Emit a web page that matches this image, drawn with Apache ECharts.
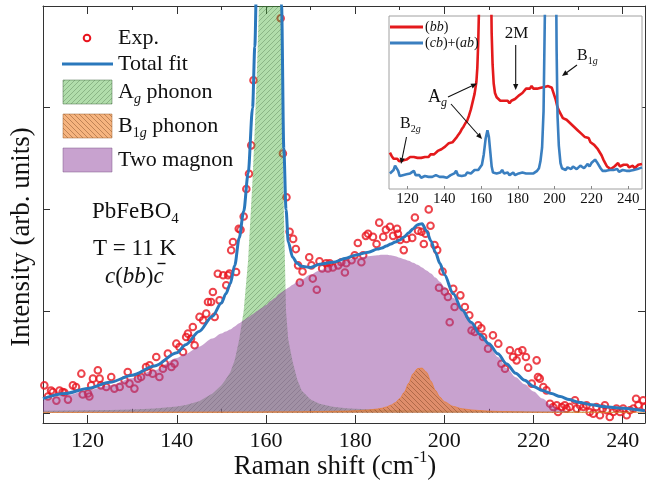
<!DOCTYPE html>
<html><head><meta charset="utf-8">
<script src="https://cdn.jsdelivr.net/npm/echarts@6/dist/echarts.min.js"></script>
<style>html,body{margin:0;padding:0;background:#fff}#c{width:646px;height:485px}</style>
</head><body><div id="c"></div>
<script>
const FONT = '"Liberation Serif","Times New Roman",serif';
const RED = '#e8141e', BLUE = '#2a78bc';

// ---- main plot data ----
const xTicks = [120,140,160,180,200,220,240];
const xMinorTicks = [130,150,170,190,210,230];
const yTicks = [0,1,2,3];

const compX = [110,115,120,125,130,135,140,142,145,148,150,151,152,153,154,155,156,157,157.5,158,158.5,159,160,161,162,163,163.5,164,164.5,165,166,167,168,170,172,175,178,180,183,185,186,187,188,189,190,191,192,193,194,195,196,197,198,199,200,202,204,206,208,210,212,214,216,218,220,222,224,226,228,230,233,236,240,245];
const twoMagnon = [.12,.17,.22,.27,.34,.42,.54,.58,.65,.73,.78,.80,.82,.85,.88,.91,.94,.97,.985,1.0,1.015,1.03,1.06,1.10,1.13,1.17,1.185,1.2,1.215,1.23,1.26,1.29,1.31,1.36,1.40,1.45,1.50,1.52,1.54,1.55,1.555,1.555,1.55,1.54,1.525,1.51,1.495,1.475,1.455,1.43,1.40,1.37,1.33,1.29,1.24,1.13,1.02,0.89,0.78,0.67,0.55,0.44,0.35,0.28,0.21,0.14,0.075,0.025,0.003,0,0,0,0,0];
const agPhonon = [.02,.022,.025,.028,.033,.042,.062,.078,.115,.19,.27,.33,.40,.52,.72,1.0,1.5,2.3,2.8,3.4,4.1,4.8,6.0,6.6,6.5,5.2,3.8,2.0,1.0,.72,.50,.33,.22,.13,.09,.06,.045,.04,.035,.032,.031,.03,.029,.028,.027,.026,.026,.025,.025,.024,.024,.023,.023,.022,.022,.021,.02,.019,.018,.017,.016,.016,.015,.015,.014,.014,.013,.013,.012,.012,.011,.011,.01,.01];
const b1gPhonon = [.004,.004,.005,.005,.006,.006,.007,.007,.007,.008,.008,.008,.008,.008,.009,.009,.009,.009,.009,.009,.009,.009,.01,.01,.01,.01,.01,.01,.01,.01,.011,.011,.011,.012,.013,.015,.017,.02,.028,.038,.045,.058,.075,.10,.14,.20,.29,.385,.435,.44,.40,.31,.22,.155,.11,.063,.04,.029,.022,.017,.014,.012,.01,.009,.008,.007,.007,.006,.006,.005,.005,.004,.004,.004];
const totalFit = [.14,.19,.24,.30,.37,.46,.59,.67,.80,.95,1.08,1.17,1.27,1.45,1.72,1.98,2.35,3.0,3.6,4.5,5.3,6.0,7.0,7.6,7.5,6.2,4.0,2.6,2.0,1.68,1.53,1.47,1.44,1.43,1.46,1.48,1.52,1.55,1.58,1.61,1.62,1.64,1.66,1.68,1.70,1.73,1.77,1.81,1.85,1.86,1.79,1.69,1.58,1.47,1.36,1.17,1.01,0.89,0.77,0.68,0.58,0.48,0.39,0.32,0.26,0.22,0.19,0.16,0.13,0.105,0.08,0.06,0.045,0.02];

const expPoints = [
[110.3,.27],[111.1,.16],[111.8,.22],[112.2,.205],[113.0,.12],[113.7,.22],[114.4,.205],[114.8,.20],[115.6,.13],[116.7,.27],[117.4,.254],[118.6,.385],[118.9,.18],[120.1,.19],[120.4,.16],[120.8,.27],[121.2,.336],[122.3,.418],[122.7,.336],[123.0,.27],[124.2,.254],[125.3,.353],[126.0,.238],[127.2,.254],[128.3,.32],[129.0,.402],[129.4,.287],[130.5,.238],[131.3,.336],[132.0,.353],[133.1,.451],[133.5,.402],[133.9,.467],[134.6,.385],[135.4,.549],[136.1,.353],[136.9,.434],[137.3,.484],[138.0,.582],[138.8,.451],[139.5,.484],[139.9,.68],[140.6,.647],[141.4,.598],[142.1,.746],[142.5,.779],[143.2,.729],[143.6,.844],[144.0,.664],[145.1,.943],[145.9,.91],[146.6,.975],[147.0,1.09],[147.7,1.09],[148.1,1.188],[148.5,.943],[149.2,1.368],[149.6,1.106],[150.4,1.352],[151.1,1.254],[151.5,1.352],[151.8,1.37],[152.2,1.598],[152.6,1.68],[153.3,1.385],[153.9,1.81],[154.3,1.8],[155.0,1.93],[155.6,2.2],[156.2,2.35],[156.7,2.63],[157.2,3.27],
[157.9,4.6],[158.6,5.8],[159.3,6.9],[160.0,7.6],[160.7,7.9],[161.4,7.8],[162.1,7.2],[162.8,5.6],
[163.3,3.88],[163.8,2.55],[164.6,2.12],[165.3,1.78],[166.1,1.71],[166.7,1.61],[167.2,1.45],[167.6,1.28],[168.2,1.39],[169.7,1.53],[170.2,1.45],[170.5,1.32],[171.4,1.21],[172.0,1.49],[172.6,1.42],[173.5,1.47],[173.9,1.42],[174.3,1.47],[175.0,1.43],[176.2,1.45],[176.9,1.48],[177.7,1.38],[178.0,1.47],[179.2,1.5],[179.9,1.55],[180.6,1.67],[181.4,1.48],[181.8,1.55],[182.4,1.74],[182.9,1.76],[184.0,1.73],[184.8,1.66],[185.4,1.87],[186.3,1.73],[186.9,1.8],[187.8,1.83],[188.5,1.74],[189.4,1.81],[189.6,1.76],[190.1,1.70],[190.9,1.6],[191.5,1.71],[192.8,1.72],[193.4,1.92],[194.1,1.79],[194.9,1.78],[195.4,1.66],[195.8,1.76],[196.5,2.0],[196.9,1.84],[197.8,1.65],[198.4,1.6],[198.8,1.23],[199.6,1.39],[200.1,1.19],[200.8,1.14],[201.2,.89],[202.0,1.22],[202.3,1.04],[203.6,1.155],[204.6,1.04],[205.6,.96],[206.1,.81],[206.8,.795],[207.6,.86],[208.3,.83],[208.7,.746],[209.8,.631],[210.9,.762],[212.1,.68],[212.8,.483],[213.6,.434],[214.7,.615],[215.4,.549],[216.2,.516],[216.6,.598],[217.5,.615],[218.3,.549],[218.8,.444],[219.6,.287],[220.7,.516],[221.0,.352],[221.4,.336],[222.2,.254],[222.9,.221],[223.7,.09],[224.4,.057],[225.2,.074],[225.5,.008],[226.3,.057],[227.0,.074],[227.4,.041],[228.1,.057],[229.3,.123],[229.7,.041],[230.4,.074],[231.2,.057],[231.9,.074],[232.6,.008],[233.4,-.008],[234.1,.057],[234.9,-.024],[235.5,.041],[236.0,.074],[236.4,.025],[237.1,-.041],[237.9,.008],[238.6,.041],[239.4,.008],[240.1,.041],[240.9,-.024],[241.6,.025],[242.4,.041],[243.0,.139],[243.5,.074],[244.6,.123],[245.0,.057]
];

// ---- inset data ----
const insetTicks = [120,140,160,180,200,220,240];
const insetBB = [
[110.5,21],[111.5,19],[112.5,17.5],[113.5,16.5],[114.5,17.5],[115.5,16],[116.5,15.5],[117.5,16.5],[118.5,15.5],[119.5,17],[120.5,17.5],[121.5,18.5],[122.5,19],[123.5,18.5],[124.5,17.5],[125.5,18],[126.5,17],[127.5,18],[128.5,17.5],[129.5,18.5],[130.5,19],[131.5,18.5],[132.5,20],[133.5,19.5],[134.5,20],[135.5,20.5],[136.5,22],[137.5,21.5],[138.5,23],[139.5,23.5],[140.5,24.5],[141.5,25],[142.5,26.5],[143.5,26],[144.5,27],[145.5,28],[146.5,29.5],[147.5,31],[148.5,32.5],[149.5,34.5],[150.5,36],[151.5,38],[152.5,39.5],[153.5,42.5],[154.5,46],[155.5,50.5],[156.5,55],[157.5,62],[158,70],[158.5,85],[159,108],[159.6,140],
[165.2,140],[165.8,90],[166.3,72],[166.9,61],[167.6,55.5],[168.5,53],[169.5,52],[170.5,51],[171.5,50],[172.5,51],[173.5,50],[174.5,51],[175.5,49.5],[176.5,51],[177.5,50],[178.5,52],[179.5,52.5],[180.5,54],[181.5,54.5],[182.5,55.5],[183.5,56.5],[184.5,58],[185.5,59],[186.5,58],[187.5,59.5],[188.5,58],[189.5,57],[190.5,58],[191.5,57.5],[192.5,58.5],[193.5,59.5],[194.5,59],[195.5,60],[196.5,59.5],[197.5,59],[198.5,58.5],[199.5,58.5],[200.5,52],[201.5,47.5],[202.5,45],[203.5,43],[204.5,41],[205.5,42],[206.5,40],[207.5,41],[208.5,38],[209.5,38.5],[210.5,36],[211.5,36.5],[212.5,34],[213.5,34.5],[214.5,32],[215.5,32.5],[216.5,30],[217.5,29],[218.5,29.5],[219.5,27],[220.5,26],[221.5,25.5],[222.5,24.5],[223.5,23],[224.5,22],[225.5,19.5],[226.5,17],[227.5,15],[228.5,13],[229.5,12],[230.5,11.5],[231.5,12],[232.5,13],[233.5,14],[234.5,15],[235.5,13],[236.5,12.5],[237.5,14],[238.5,15],[239.5,14],[240.5,12.5],[241.5,12],[242.5,13.5],[243.5,12],[244.5,13],[245.5,14],[246.5,13],[247.5,14.5]
];
const insetCB = [
[110.5,9],[111.5,10],[112.5,11],[113.3,13.5],[114.2,14],[115,10.5],[115.8,7.5],[116.5,7],[117.5,8],[118.5,7],[119.5,8.5],[120.5,8],[121.5,9],[122.5,10],[123.5,10.5],[124.5,8],[125.5,7],[126.5,8],[127.5,6.5],[128.5,6],[129.5,7.5],[130.5,8],[131.5,7],[132.5,8],[133.5,7],[134.5,6.5],[135.5,8],[136.5,7.5],[137.5,7],[138.5,8],[139.5,7],[140.5,7.5],[141.5,6.5],[142.5,7.5],[143.5,8],[144.5,7.5],[145.5,9],[146.5,10.5],[147.5,8],[148.5,7],[149.5,7.5],[150.5,8.5],[151.5,8],[152.5,9.5],[153.5,8.5],[154.5,9],[155.5,10],[156.5,11],[157.5,10],[158.5,11],[159.5,12],[160.5,14],[161.5,20],[162.5,29],[163.5,34],[164.3,30],[165,22],[165.8,13],[166.5,9.5],[167.5,10],[168.5,9],[169.5,8],[170.5,9.5],[171.5,11],[172.5,9],[173.5,8.5],[174.5,9.5],[175.5,8],[176.5,8.5],[177.5,9.5],[178.5,8],[179.5,8.5],[180.5,9],[181.5,8],[182.5,9.5],[183.5,8.5],[184.5,9],[185.5,8],[186.5,9],[187.5,8.5],[188.5,9],[189.5,9.5],[190.5,10.5],[191.5,12],[192.3,16],[193.2,24],[194,45],[194.7,100],[195.2,150],
[200.6,150],[201.1,80],[201.6,42],[202.3,25],[203.2,15],[204,12],[205,12],[206,11],[207,12.5],[208,12],[209,11.5],[210,13],[211,12.5],[212,11.5],[213,12],[214,13.5],[215,14],[216,12],[217,13],[218,14.5],[219,13],[220,15],[221,16],[222,17],[223,15.5],[224,16],[225,12],[226,10.5],[227,11.5],[228,10.5],[229,10],[230,11],[231,10],[232,11],[233,10.5],[234,11.5],[235,10],[236,10.5],[237,11],[238,10],[239,10.5],[240,11],[241,10.5],[242,11.5],[243,11],[244,12],[245,11.5],[246,12],[247.5,12.5]
];

// ---- hatch patterns ----
function hatch(bg, line, dir, s) {
  const c = document.createElement('canvas'); c.width = s; c.height = s;
  const g = c.getContext('2d');
  g.fillStyle = bg; g.fillRect(0, 0, s, s);
  g.strokeStyle = line; g.lineWidth = 0.7; g.beginPath();
  if (dir > 0) {
    g.moveTo(0, s); g.lineTo(s, 0); g.moveTo(-1, 1); g.lineTo(1, -1); g.moveTo(s - 1, s + 1); g.lineTo(s + 1, s - 1);
  } else {
    g.moveTo(0, 0); g.lineTo(s, s); g.moveTo(-1, s - 1); g.lineTo(1, s + 1); g.moveTo(s - 1, -1); g.lineTo(s + 1, 1);
  }
  g.stroke();
  return c;
}
const greenPat = {image: hatch('rgba(70,175,55,0.42)', 'rgba(30,70,30,0.38)', 1, 5), repeat: 'repeat'};
const orangePat = {image: hatch('rgba(240,125,35,0.58)', 'rgba(90,40,10,0.5)', -1, 5), repeat: 'repeat'};
const PURPLE = 'rgba(145,70,160,0.5)';

const zip = (xs, ys) => xs.map((x, i) => [x, ys[i]]);

// ---- text helpers ----
function rich(size) {
  return {
    m: {fontSize: size, fontFamily: FONT, fill: '#111', lineHeight: Math.round(size * 1.3)},
    i: {fontSize: size, fontFamily: FONT, fontStyle: 'italic', fill: '#111', lineHeight: Math.round(size * 1.3)},
    s: {fontSize: Math.round(size * 0.64), fontFamily: FONT, fill: '#111', lineHeight: Math.round(size * 0.64), verticalAlign: 'bottom'},
    si: {fontSize: Math.round(size * 0.64), fontFamily: FONT, fontStyle: 'italic', fill: '#111', lineHeight: Math.round(size * 0.64), verticalAlign: 'bottom'},
    sup: {fontSize: Math.round(size * 0.6), fontFamily: FONT, fill: '#111', lineHeight: Math.round(size * 0.6), verticalAlign: 'top'}
  };
}
function T(x, y, text, size, extra) {
  return {type: 'text', z: 100, style: Object.assign({x: x, y: y, text: text, rich: rich(size), verticalAlign: 'middle', align: 'left'}, extra || {})};
}
function arrow(x1, y1, x2, y2) {
  const a = Math.atan2(y2 - y1, x2 - x1), L = 6, W = 2.6;
  const bx = x2 - L * Math.cos(a), by = y2 - L * Math.sin(a);
  return [
    {type: 'line', z: 100, shape: {x1: x1, y1: y1, x2: bx, y2: by}, style: {stroke: '#111', lineWidth: 1.1}},
    {type: 'polygon', z: 100, shape: {points: [[x2, y2], [bx - W * Math.sin(a), by + W * Math.cos(a)], [bx + W * Math.sin(a), by - W * Math.cos(a)]]}, style: {fill: '#111'}}
  ];
}

const chart = echarts.init(document.getElementById('c'), null, {renderer: 'canvas', width: 646, height: 485});

const axisCommon = {type: 'value', splitLine: {show: false}, axisLine: {show: true, onZero: false, lineStyle: {color: '#333', width: 1}}};

const graphics = [
  // legend
  {type: 'circle', z: 100, shape: {cx: 87, cy: 38, r: 3.3}, style: {fill: 'none', stroke: RED, lineWidth: 2}},
  {type: 'line', z: 100, shape: {x1: 62, y1: 64, x2: 113, y2: 64}, style: {stroke: BLUE, lineWidth: 3}},
  {type: 'rect', z: 100, shape: {x: 63, y: 80, width: 49, height: 24}, style: {fill: greenPat, stroke: 'rgba(60,100,60,0.6)', lineWidth: 0.8}},
  {type: 'rect', z: 100, shape: {x: 63, y: 114, width: 49, height: 24}, style: {fill: orangePat, stroke: 'rgba(150,90,40,0.6)', lineWidth: 0.8}},
  {type: 'rect', z: 100, shape: {x: 63, y: 148, width: 49, height: 24}, style: {fill: PURPLE, stroke: 'rgba(120,80,130,0.6)', lineWidth: 0.8}},
  T(118, 38, '{m|Exp.}', 22),
  T(118, 64, '{m|Total fit}', 22),
  T(118, 92, '{m|A}{si|g}{m| phonon}', 22),
  T(118, 126, '{m|B}{s|1}{si|g}{m| phonon}', 22),
  T(118, 160, '{m|Two magnon}', 22),
  // sample info
  T(92, 212, '{m|PbFeBO}{s|4}', 23),
  T(93, 249, '{m|T = 11 K}', 23),
  T(105, 277, '{i|c}{m|(}{i|bb}{m|)}{i|c}', 23),
  {type: 'line', z: 100, shape: {x1: 157.5, y1: 263.5, x2: 165.5, y2: 263.5}, style: {stroke: '#111', lineWidth: 1.4}},
  // axis titles
  T(335, 467, '{m|Raman shift (cm}{sup|-1}{m|)}', 27, {align: 'center'}),
  {type: 'text', z: 100, x: 22, y: 237, rotation: Math.PI / 2, style: {x: 0, y: 0, text: 'Intensity (arb. units)', fontSize: 27, fontFamily: FONT, fill: '#111', align: 'center', verticalAlign: 'middle'}},
  // inset legend
  {type: 'line', z: 100, shape: {x1: 390, y1: 27, x2: 423, y2: 27}, style: {stroke: '#e41a1c', lineWidth: 3}},
  {type: 'line', z: 100, shape: {x1: 390, y1: 43, x2: 423, y2: 43}, style: {stroke: '#3a7fc0', lineWidth: 3}},
  T(425, 27.5, '{m|(}{i|bb}{m|)}', 14),
  T(425, 43.5, '{m|(}{i|cb}{m|)+(}{i|ab}{m|)}', 14),
  // inset annotations
  T(516.5, 34, '{m|2M}', 17, {align: 'center'}),
  T(577, 56, '{m|B}{s|1}{si|g}', 16),
  T(428, 97.5, '{m|A}{si|g}', 18),
  T(400, 124, '{m|B}{s|2}{si|g}', 16)
].concat(arrow(515.7, 45, 515.7, 90), arrow(577, 65, 562, 76), arrow(448, 97, 477, 83.5), arrow(451, 104, 482, 139), arrow(406.5, 137, 401, 164));

const option = {
  animation: false,
  backgroundColor: '#fff',
  grid: [
    {left: 43, right: 1, top: 6, bottom: 62, show: false},
    {left: 389, top: 16, width: 253, height: 173, show: true, backgroundColor: '#fff', borderColor: '#a0a0a0', borderWidth: 1, z: 10},
    {left: 43, right: 1, top: 6, bottom: 62, show: false}
  ],
  xAxis: [
    Object.assign({}, axisCommon, {gridIndex: 0, min: 110, max: 245, position: 'bottom',
      axisTick: {show: true, inside: true, length: 8, customValues: xTicks, lineStyle: {color: '#333'}},
      axisLabel: {customValues: xTicks, fontSize: 22, fontFamily: FONT, color: '#111', margin: 7}}),
    Object.assign({}, axisCommon, {gridIndex: 0, min: 110, max: 245, position: 'top',
      axisTick: {show: true, inside: true, length: 8, customValues: xTicks, lineStyle: {color: '#333'}},
      axisLabel: {show: false}}),
    Object.assign({}, axisCommon, {gridIndex: 1, min: 110, max: 247.5, position: 'bottom', z: 12,
      axisLine: {show: false},
      axisTick: {show: true, inside: true, length: 3, customValues: insetTicks, lineStyle: {color: '#888'}},
      axisLabel: {customValues: insetTicks, fontSize: 15, fontFamily: FONT, color: '#111', margin: 3}}),
    Object.assign({}, axisCommon, {gridIndex: 2, min: 110, max: 245, position: 'bottom', axisLine: {show: false},
      axisTick: {show: true, inside: true, length: 4, customValues: xMinorTicks, lineStyle: {color: '#333'}},
      axisLabel: {show: false}}),
    Object.assign({}, axisCommon, {gridIndex: 2, min: 110, max: 245, position: 'top', axisLine: {show: false},
      axisTick: {show: true, inside: true, length: 4, customValues: xMinorTicks, lineStyle: {color: '#333'}},
      axisLabel: {show: false}})
  ],
  yAxis: [
    Object.assign({}, axisCommon, {gridIndex: 0, min: -0.1, max: 4, position: 'left',
      axisTick: {show: true, inside: true, length: 7, customValues: yTicks, lineStyle: {color: '#333'}},
      axisLabel: {show: false}}),
    Object.assign({}, axisCommon, {gridIndex: 0, min: -0.1, max: 4, position: 'right',
      axisTick: {show: true, inside: true, length: 7, customValues: yTicks, lineStyle: {color: '#333'}},
      axisLabel: {show: false}}),
    Object.assign({}, axisCommon, {gridIndex: 1, min: 0, max: 100, axisLine: {show: false}, axisTick: {show: false}, axisLabel: {show: false}}),
    Object.assign({}, axisCommon, {gridIndex: 2, min: -0.1, max: 4, axisLine: {show: false}, axisTick: {show: false}, axisLabel: {show: false}})
  ],
  series: [
    {name: 'Exp.', type: 'scatter', xAxisIndex: 0, yAxisIndex: 0, z: 1, data: expPoints, symbol: 'circle', symbolSize: 6.6,
      itemStyle: {color: 'rgba(0,0,0,0)', borderColor: RED, borderWidth: 2}, clip: true},
    {name: 'Ag phonon', type: 'line', xAxisIndex: 0, yAxisIndex: 0, z: 2, data: zip(compX, agPhonon), symbol: 'none',
      lineStyle: {width: 0}, areaStyle: {color: greenPat, opacity: 1}, clip: true},
    {name: 'Two magnon', type: 'line', xAxisIndex: 0, yAxisIndex: 0, z: 3, data: zip(compX, twoMagnon), symbol: 'none', smooth: 0.3, smoothMonotone: 'x',
      lineStyle: {width: 0}, areaStyle: {color: PURPLE, opacity: 1}, clip: true},
    {name: 'B1g phonon', type: 'line', xAxisIndex: 0, yAxisIndex: 0, z: 4, data: zip(compX, b1gPhonon), symbol: 'none', smooth: 0.3, smoothMonotone: 'x',
      lineStyle: {width: 0.8, color: 'rgba(235,125,45,0.85)'}, areaStyle: {color: orangePat, opacity: 1}, clip: true},
    {name: 'Total fit', type: 'line', xAxisIndex: 0, yAxisIndex: 0, z: 5, data: zip(compX, totalFit), symbol: 'none', smooth: 0.3, smoothMonotone: 'x',
      lineStyle: {width: 3, color: BLUE}, clip: true},
    {name: '(bb)', type: 'line', xAxisIndex: 2, yAxisIndex: 2, z: 12, data: insetBB, symbol: 'none',
      lineStyle: {width: 2.6, color: '#e41a1c'}, clip: true},
    {name: '(cb)+(ab)', type: 'line', xAxisIndex: 2, yAxisIndex: 2, z: 12, data: insetCB, symbol: 'none',
      lineStyle: {width: 2.6, color: '#3a7fc0'}, clip: true}
  ],
  graphic: graphics
};
chart.setOption(option);
</script>
</body></html>
